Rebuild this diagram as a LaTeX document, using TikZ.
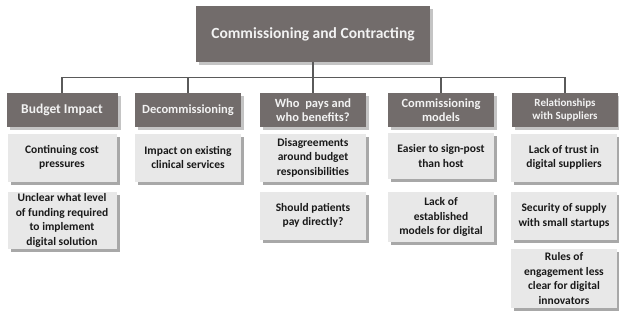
\documentclass[tikz,border=0pt]{standalone}
\usepackage{fontspec}
\setmainfont{Carlito}
\usetikzlibrary{shadows}

\definecolor{headfill}{RGB}{114,108,107}
\definecolor{headshade}{RGB}{196,196,196}
\definecolor{itemfill}{RGB}{232,232,232}
\definecolor{itemshade}{RGB}{168,168,168}
\definecolor{linkgray}{RGB}{90,90,90}

\tikzset{
  title/.style={fill=headfill, text=white!95!black, inner sep=0pt,
    minimum width=234pt, minimum height=56pt,
    font=\bfseries\fontsize{15.5}{18}\selectfont,
    copy shadow={shadow xshift=3pt, shadow yshift=-3pt, fill=headshade, draw=none}},
  head/.style={fill=headfill, text=white!95!black, inner sep=0pt, align=center,
    minimum width=106pt, minimum height=34pt,
    font=\bfseries\fontsize{12.5}{13.5}\selectfont,
    copy shadow={shadow xshift=3pt, shadow yshift=-3pt, fill=headshade, draw=none}},
  item/.style={fill=itemfill, text=black!90, inner sep=0pt, align=center,
    minimum width=106pt, minimum height=48pt,
    font=\bfseries\fontsize{11.5}{14.5}\selectfont,
    copy shadow={shadow xshift=3pt, shadow yshift=-3pt, fill=itemshade, draw=none}},
  link/.style={draw=linkgray, line width=1.3pt}
}

\begin{document}
\begin{tikzpicture}[x=1pt, y=-1pt]
  \useasboundingbox (0,0) rectangle (619,321);

  % top of the tree
  \node[title] (cc) at (313,34) {Commissioning and Contracting};

  % the five headings
  \node[head, minimum width=111pt, font=\bfseries\fontsize{13.5}{15}\selectfont] (budget) at (62,110) {Budget Impact};
  \node[head, font=\bfseries\fontsize{12.5}{14}\selectfont] (decomm) at (188,110) {Decommissioning};
  \node[head] (whopays) at (313,110) {Who\ \ pays and\\who benefits?};
  \node[head] (cmodels) at (441,110) {Commissioning\\models};
  \node[head, font=\bfseries\fontsize{11}{13.5}\selectfont] (suppliers) at (565,110) {Relationships\\with Suppliers};

  % connectors
  \draw[link] (cc.south) -- ++(0,15) -| (budget.north);
  \draw[link] (cc.south) -- ++(0,15) -| (decomm.north);
  \draw[link] (cc.south) -- (whopays.north);
  \draw[link] (cc.south) -- ++(0,15) -| (cmodels.north);
  \draw[link] (cc.south) -- ++(0,15) -| (suppliers.north);

  % items under Budget Impact
  \node[item, minimum width=109pt] (budget1) at (62,157.5) {Continuing cost\\pressures};
  \node[item, minimum width=109pt, minimum height=57pt] (budget2) at (62,220.5)
    {Unclear what level\\of funding required\\to implement\\digital solution};

  % items under Decommissioning
  \node[item] (decomm1) at (188,157.5) {Impact on existing\\clinical services};

  % items under Who pays
  \node[item] (whopays1) at (313,157.5) {Disagreements\\around budget\\responsibilities};
  \node[item] (whopays2) at (313,215.5) {Should patients\\pay directly?};

  % items under Commissioning models
  \node[item, minimum height=46pt] (cmodels1) at (441,156) {Easier to sign-post\\than host};
  \node[item, minimum height=50pt] (cmodels2) at (441,217) {Lack of\\established\\models for digital};

  % items under Relationships with Suppliers
  \node[item] (suppliers1) at (564,157.5) {Lack of trust in\\digital suppliers};
  \node[item] (suppliers2) at (564,216) {Security of supply\\with small startups};
  \node[item, minimum height=59pt] (suppliers3) at (564,278.5)
    {Rules of\\engagement less\\clear for digital\\innovators};
\end{tikzpicture}
\end{document}
